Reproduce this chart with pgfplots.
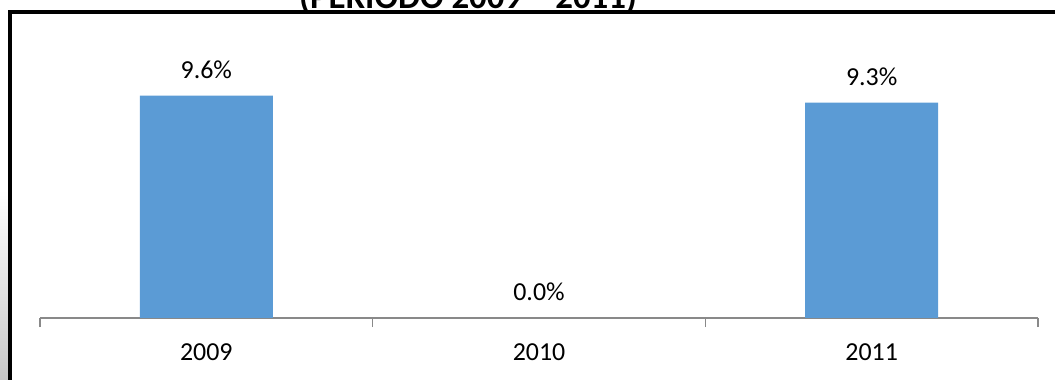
\documentclass[border=0pt]{standalone}
\usepackage{fontspec}
\setmainfont{Carlito}
\usepackage{pgfplots}
\pgfplotsset{compat=1.18}
\definecolor{barblue}{HTML}{5B9BD5}
\definecolor{axisgray}{HTML}{898989}
\begin{document}
\begin{tikzpicture}
\path[use as bounding box] (0,0) rectangle (527.5bp,190bp);
% left shadow
\shade[top color=white, bottom color=black!22] (0,0) rectangle (4bp,95bp);
\begin{axis}[
    at={(20bp,31bp)}, anchor=south west,
    scale only axis, width=499bp, height=139bp,
    xmin=-0.5, xmax=2.5, ymin=0, ymax=12,
    ybar, bar width=66.5bp,
    axis x line*=bottom, hide y axis,
    axis line style={axisgray, line width=0.6bp},
    xtick={0,1,2}, xticklabels={2009,2010,2011},
    major tick length=0,
    minor xtick={-0.5,0.5,1.5,2.5}, minor tick length=4.5bp,
    tick align=outside,
    minor tick style={axisgray, line width=0.6bp},
    xticklabel style={anchor=center, yshift=-17bp, font=\fontsize{13}{15}\selectfont},
    /pgf/number format/assume math mode=true,
    nodes near coords={\pgfmathprintnumber[fixed,fixed zerofill,precision=1]{\pgfplotspointmeta}\%},
    every node near coord/.append style={anchor=center, yshift=13bp, black, font=\fontsize{13}{15}\selectfont},
]
\addplot[fill=barblue, draw=none] coordinates {(0,9.6) (1,0.0) (2,9.3)};
\end{axis}
% frame
\draw[line width=2.2bp] (4.9bp,-5bp) -- (4.9bp,184bp) -- (540bp,184bp);
\node[anchor=base, font=\bfseries\fontsize{17.5}{20}\selectfont, inner sep=0] at (234bp,185.8bp) {(PERIODO 2009 -- 2011)};
\end{tikzpicture}
\end{document}
